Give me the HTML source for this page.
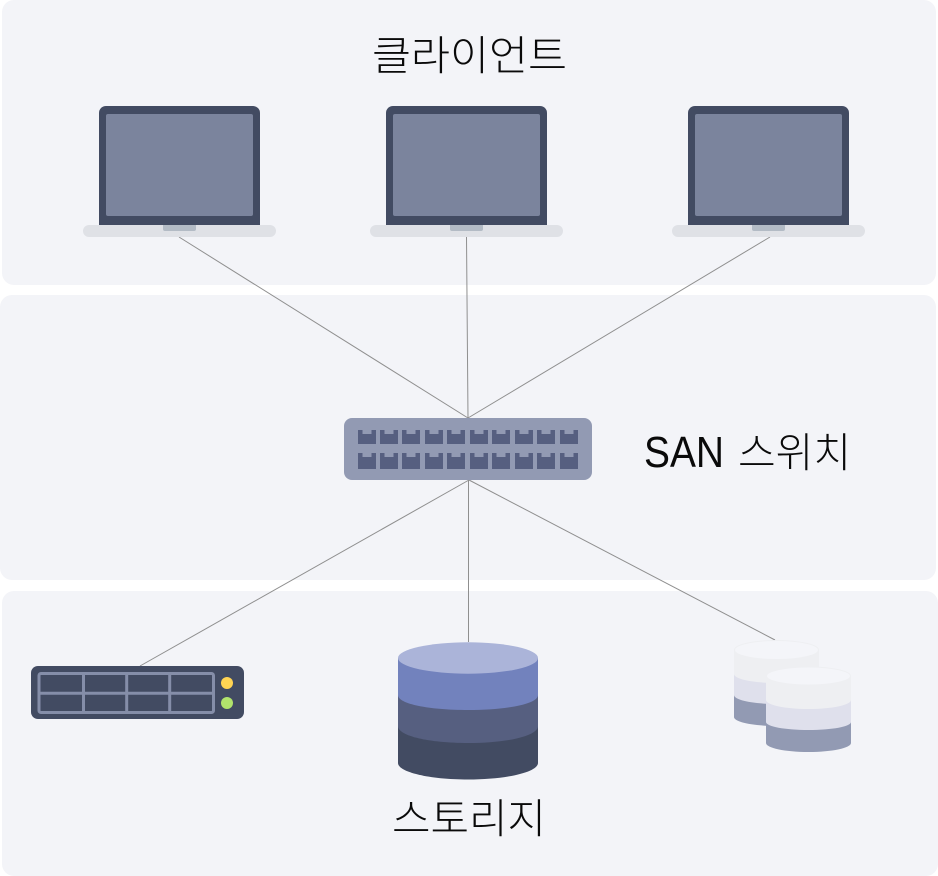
<!DOCTYPE html>
<html><head><meta charset="utf-8"><style>
html,body{margin:0;padding:0;background:#fff;width:938px;height:876px;overflow:hidden}
svg{display:block}
text{font-family:"Liberation Sans","Noto Sans CJK KR",sans-serif;font-size:41px;fill:#0a0a0a;font-weight:300}
</style></head><body>
<svg width="938" height="876" viewBox="0 0 938 876" xmlns="http://www.w3.org/2000/svg">
<defs>
<g id="laptop">
<path d="M99 225V113a7 7 0 0 1 7-7h147a7 7 0 0 1 7 7v112z" fill="#424b62"/>
<rect x="106" y="114" width="147" height="102" rx="2" fill="#7b849d"/>
<rect x="83" y="225" width="193" height="12" rx="6" fill="#dfe1e6"/>
<path d="M163 225h33v4a2 2 0 0 1-2 2h-29a2 2 0 0 1-2-2z" fill="#b3bbc5"/>
</g>
<path id="port" d="M0 0h4.500v4h9v-4h4.500v14h-18z" fill="#565f80"/>
<path id="port2" d="M0 0h4.500v4h9v-4h4.500v16h-18z" fill="#565f80"/>
</defs>
<rect x="2" y="0" width="934" height="285" rx="12" fill="#f3f4f8"/>
<rect x="0" y="295" width="936" height="285" rx="12" fill="#f3f4f8"/>
<rect x="2" y="591" width="936" height="285" rx="12" fill="#f3f4f8"/>
<g stroke="#8f8f8f" stroke-width="1" fill="none">
<path d="M179 237L468 418M466.500 237L468 418M770 237L468 418M469 480L140 666M468.500 480V642M469 480L775 640"/>
</g>
<use href="#laptop"/>
<use href="#laptop" x="287"/>
<use href="#laptop" x="589"/>
<rect x="344" y="418" width="248" height="62" rx="8" fill="#929ab3"/>
<g>
<use href="#port" x="358" y="430"/><use href="#port" x="380" y="430"/><use href="#port" x="402" y="430"/><use href="#port" x="425" y="430"/><use href="#port" x="447" y="430"/><use href="#port" x="470" y="430"/><use href="#port" x="492" y="430"/><use href="#port" x="515" y="430"/><use href="#port" x="537" y="430"/><use href="#port" x="560" y="430"/>
<use href="#port2" x="358" y="453"/><use href="#port2" x="380" y="453"/><use href="#port2" x="402" y="453"/><use href="#port2" x="425" y="453"/><use href="#port2" x="447" y="453"/><use href="#port2" x="470" y="453"/><use href="#port2" x="492" y="453"/><use href="#port2" x="515" y="453"/><use href="#port2" x="537" y="453"/><use href="#port2" x="560" y="453"/>
</g>
<rect x="31" y="666" width="213" height="53" rx="7" fill="#424b62"/>
<rect x="39" y="673.500" width="174.500" height="39" rx="2" fill="none" stroke="#858ea9" stroke-width="3"/>
<path d="M83.500 673V712M126.700 673V712M169.700 673V712M39 693.300H213" stroke="#858ea9" stroke-width="3" fill="none"/>
<circle cx="227" cy="683" r="6" fill="#ffd453"/>
<circle cx="227" cy="703" r="6" fill="#b1e36c"/>
<path d="M398 658V763C398 772 429 779.500 468 779.500S538 772 538 763V658z" fill="#424b62"/>
<path d="M398 658V726C398 736 429 743 468 743S538 736 538 726V658z" fill="#565f80"/>
<path d="M398 658V695C398 704 429 710 468 710S538 704 538 695V658z" fill="#7282bd"/>
<ellipse cx="468" cy="658" rx="70" ry="15.700" fill="#abb4d9"/>
<path d="M734 650V717C734 722 753 726 776.500 726S819 722 819 717V650z" fill="#929ab3"/>
<path d="M734 650V695C734 700 753 704 776.500 704S819 700 819 695V650z" fill="#dfe0ec"/>
<path d="M734 650V674C734 679 753 683 776.500 683S819 679 819 674V650z" fill="#eeeff2"/>
<ellipse cx="776.500" cy="650" rx="42" ry="9.500" fill="#f4f5f9" stroke="#eeeff2" stroke-width="1"/>
<path d="M766 676V743C766 748 785 752 808.500 752S851 748 851 743V676z" fill="#929ab3"/>
<path d="M766 676V722C766 726.500 785 730 808.500 730S851 726.500 851 722V676z" fill="#dfe0ec"/>
<path d="M766 676V700C766 705 785 709 808.500 709S851 705 851 700V676z" fill="#eeeff2"/>
<ellipse cx="808.500" cy="676" rx="42" ry="9" fill="#f4f5f9" stroke="#eeeff2" stroke-width="1"/>
<text x="469.500" y="70" text-anchor="middle" textLength="195" lengthAdjust="spacingAndGlyphs">클라이언트</text>
<text x="644" y="467" style="font-size:44px" textLength="80" lengthAdjust="spacingAndGlyphs">SAN</text>
<text x="738" y="467" textLength="113" lengthAdjust="spacingAndGlyphs">스위치</text>
<text x="469" y="833" text-anchor="middle" textLength="154" lengthAdjust="spacingAndGlyphs">스토리지</text>
</svg>
</body></html>
